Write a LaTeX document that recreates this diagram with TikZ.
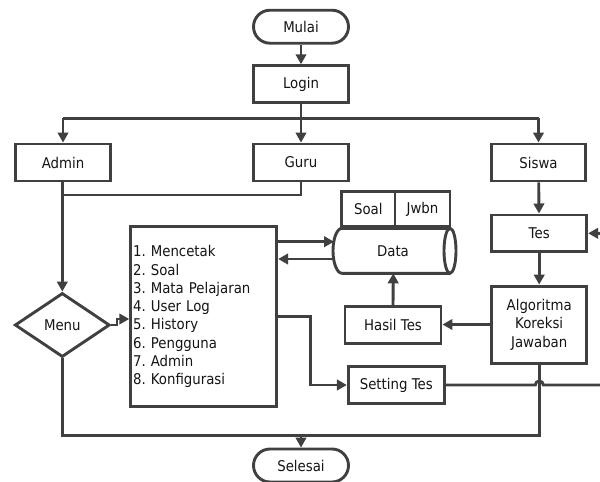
\documentclass[tikz,border=0pt]{standalone}
\usepackage{fontspec}
\setmainfont{DejaVu Sans}[FakeStretch=0.9]
\usetikzlibrary{arrows.meta,shapes.geometric}
\definecolor{ln}{HTML}{404040}
\definecolor{tx}{HTML}{151515}
\frenchspacing
\begin{document}
\begin{tikzpicture}[x=1pt,y=-1pt,
  line/.style={draw=ln,line width=2.9pt},
  arr/.style={line,-{Triangle[length=10pt,width=10.5pt]}},
  base/.style={line,fill=white,inner sep=0pt,text=tx,font=\fontsize{14.8}{18.3}\selectfont,align=center},
  proc/.style={base,rectangle,minimum width=95pt,minimum height=37pt},
  term/.style={base,rectangle,rounded corners=16.5pt,minimum width=95pt,minimum height=33pt},
  dec/.style={base,diamond,aspect=1.48,minimum width=95pt,minimum height=64pt}]
\useasboundingbox (0,0) rectangle (600,482);
% nodes
\node[term] (mulai) at (301,26.7) {Mulai};
\node[proc] (login) at (301,84.2) {Login};
\node[proc] (admin) at (63,162.5) {Admin};
\node[proc] (guru) at (301,162.5) {Guru};
\node[proc,minimum width=93.5pt] (siswa) at (538.5,162.5) {Siswa};
\node[proc,minimum height=36.7pt] (tes) at (539.2,233.3) {Tes};
\node[proc,minimum height=77.5pt] (algo) at (539.2,324.8) {Algoritma\\Koreksi\\Jawaban};
\node[proc,minimum width=96pt] (hasil) at (393,325.3) {Hasil Tes};
\node[proc,minimum width=96pt,minimum height=36.7pt] (setting) at (396.3,385) {Setting Tes};
\node[dec] (menu) at (62.3,325) {Menu};
\node[base,rectangle,minimum width=146pt,minimum height=180pt,text width=141pt,inner xsep=2.5pt,align=left] (list) at (203.7,316.7)
  {1. Mencetak\\2. Soal\\3. Mata Pelajaran\\4. User Log\\5. History\\6. Pengguna\\7. Admin\\8. Konfigurasi};
\node[base,rectangle,minimum width=53.3pt,minimum height=35pt] (soal) at (368.3,209.2) {Soal};
\node[base,rectangle,minimum width=55pt,minimum height=35pt] (jwbn) at (422.5,209.2) {Jwbn};
\node[term] (selesai) at (301,465.5) {Selesai};
% data store (horizontal cylinder)
\draw[line,fill=white] (450,228.3) -- (342,228.3) arc[start angle=-90,end angle=-270,x radius=9,y radius=22.5] -- (450,273.3);
\draw[line,fill=white] (450,250.8) ellipse[x radius=6,y radius=22.5];
\node[text=tx,font=\fontsize{14.8}{18.3}\selectfont,inner sep=0pt] (data) at (393,250.8) {Data};
\coordinate (datab) at (393.3,273.3);
\coordinate (datain) at (334,241.7);
\coordinate (dataout) at (333.5,259);
% connectors
\coordinate (split) at (301,118.3);
\coordinate (sl) at (63,118.3);
\coordinate (sr) at (538.5,118.3);
\draw[arr] (mulai) -- (login);
\draw[line] (login.south) -- (split);
\draw[line] (sl) -- (sr);
\draw[arr] (sl) -- (admin.north);
\draw[arr] (split) -- (guru.north);
\draw[arr] (sr) -- (siswa.north);
\coordinate (gj) at (62.3,195);
\draw[line] (guru.south) -- (301,195) -- (gj);
\draw[arr] (admin.south -| menu.north) -- (menu.north);
\draw[arr] (menu.east) -- (117,325) -- (117,319) -- (list.west |- 0,319);
\draw[arr] (list.east |- 0,241.7) -- (datain);
\draw[arr] (dataout) -- (list.east |- 0,259);
\draw[arr] (list.east |- 0,316.7) -- (310.7,316.7) -- (310.7,385) -- (setting.west);
\draw[arr] (siswa) -- (tes);
\draw[arr] (tes) -- (algo);
\draw[arr] (algo.west |- 0,324.5) -- (hasil.east |- 0,324.5);
\draw[arr] (hasil.north) -- (datab);
\coordinate (bend) at (602,385);
\draw[arr] (setting.east) -- (535.3,385) arc[start angle=180,end angle=360,radius=4] -- (bend) -- (bend |- tes.east) -- (tes.east);
\coordinate (bl) at (62.3,435.7);
\coordinate (bm) at (301,435.7);
\draw[line] (algo.south) -- (539.2,435.7) -- (bl) -- (menu.south);
\draw[arr] (bm) -- (selesai.north);
\end{tikzpicture}
\end{document}
